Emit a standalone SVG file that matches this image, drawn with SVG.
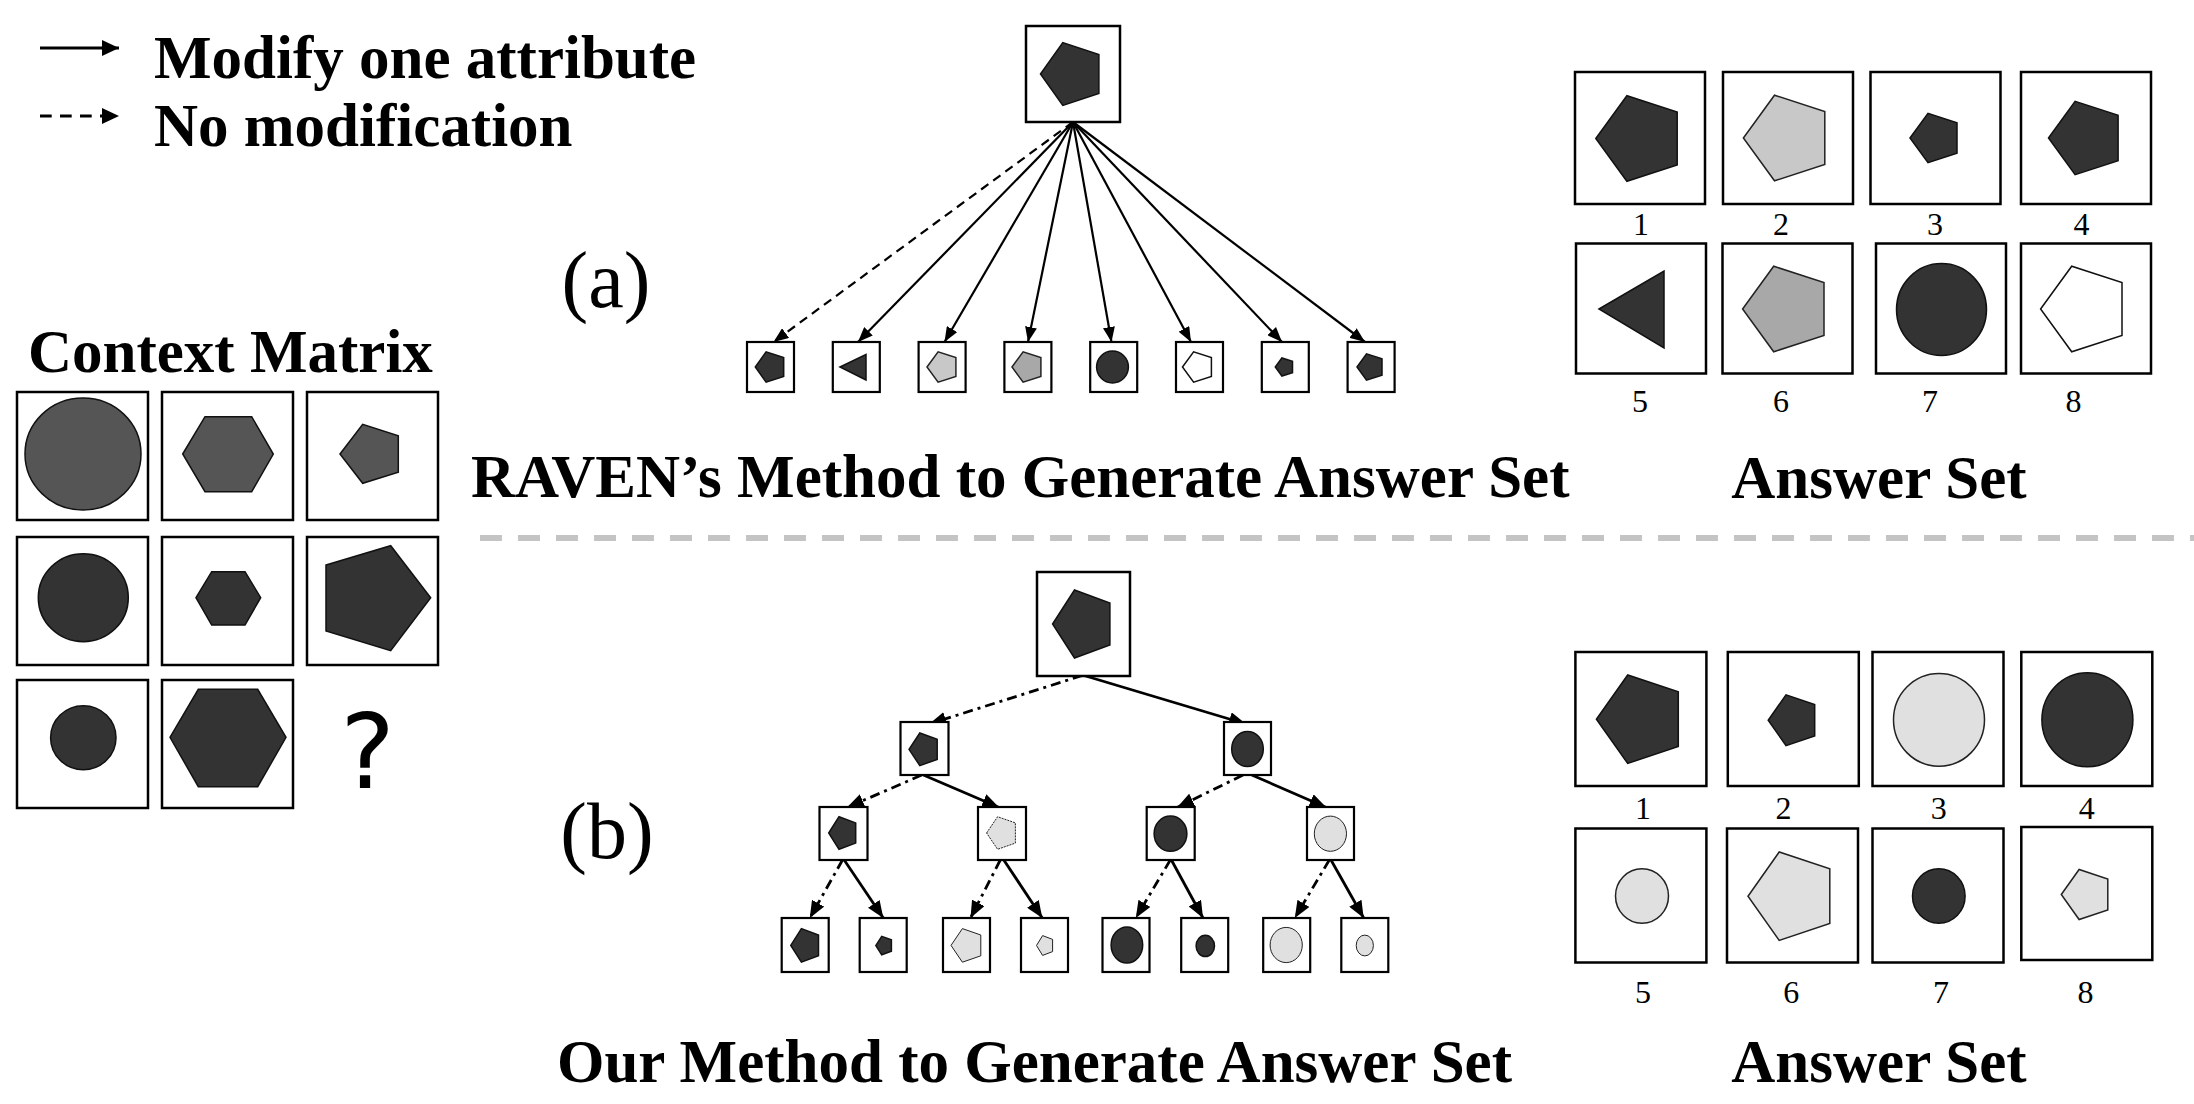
<svg xmlns="http://www.w3.org/2000/svg" width="2194" height="1104" viewBox="0 0 2194 1104">
<style>
.bg{fill:#fff}
.box{fill:#fff;stroke:#000;stroke-width:2.5}
.sbox{fill:#fff;stroke:#000;stroke-width:2.2}
.dk{fill:#333;stroke:#111;stroke-width:1.5}
.md{fill:#555;stroke:#111;stroke-width:1.5}
.lt{fill:#e0e0e0;stroke:#222;stroke-width:1.5}
.lta{fill:#c8c8c8;stroke:#222;stroke-width:1.5}
.gr{fill:#a8a8a8;stroke:#222;stroke-width:1.5}
.wh{fill:#fff;stroke:#111;stroke-width:1.5}
.title{font-family:"Liberation Serif","Times New Roman",serif;font-weight:bold;font-size:61px;fill:#000}
.lab{font-family:"Liberation Serif","Times New Roman",serif;font-size:80px;fill:#000}
.num{font-family:"Liberation Serif","Times New Roman",serif;font-size:32px;fill:#000;text-anchor:middle}
.ar{fill:none;stroke:#000;stroke-width:2.2;marker-end:url(#ah)}
.br{fill:none;stroke:#000;stroke-width:2.8;marker-end:url(#ahb)}
.lg{fill:none;stroke:#000;stroke-width:2.8;marker-end:url(#ahl)}
.da{stroke-dasharray:9 6}
.dd{stroke-dasharray:10 5 3 5}
</style>
<defs>
<marker id="ah" markerUnits="userSpaceOnUse" markerWidth="16" markerHeight="12" refX="15" refY="6" orient="auto">
<path d="M0,0 L15,6 L0,12 z" fill="#000"/>
</marker>
<marker id="ahb" markerUnits="userSpaceOnUse" markerWidth="18" markerHeight="14" refX="17" refY="7" orient="auto">
<path d="M0,0 L17,7 L0,14 z" fill="#000"/>
</marker>
<marker id="ahl" markerUnits="userSpaceOnUse" markerWidth="18" markerHeight="16" refX="17" refY="8" orient="auto">
<path d="M0,0 L17,8 L0,16 z" fill="#000"/>
</marker>
</defs>
<rect class="bg" x="0" y="0" width="2194" height="1104"/>

<g id="legend">
<line class="lg" x1="40" y1="48" x2="119" y2="48"/>
<text class="title" x="154" y="78">Modify one attribute</text>
<line class="lg" x1="40" y1="116" x2="119" y2="116" style="stroke-dasharray:11.7 8.3"/>
<text class="title" x="154" y="146">No modification</text>
</g>

<g id="context-matrix">
<text class="title" x="28" y="372">Context Matrix</text>
<rect class="box" x="17" y="392" width="131" height="128"/>
<rect class="box" x="162" y="392" width="131" height="128"/>
<rect class="box" x="307" y="392" width="131" height="128"/>
<rect class="box" x="17" y="537" width="131" height="128"/>
<rect class="box" x="162" y="537" width="131" height="128"/>
<rect class="box" x="307" y="537" width="131" height="128"/>
<rect class="box" x="17" y="680" width="131" height="128"/>
<rect class="box" x="162" y="680" width="131" height="128"/>
<ellipse class="md" cx="83" cy="454" rx="58" ry="56"/>
<polygon class="md" points="182.7,454 205,416.7 251.7,416.7 273.3,454 251.7,491.7 205,491.7"/>
<polygon class="md" points="340,454 362.7,424.3 398.3,435.7 398.3,472.3 362.7,483.3"/>
<ellipse class="dk" cx="83.3" cy="597.7" rx="45" ry="44"/>
<polygon class="dk" points="196,597.7 211.7,571.7 245,571.7 260.7,597.7 245,625 211.7,625"/>
<polygon class="dk" points="326,565 390.7,545.7 430.7,597.7 390.7,650.7 326,631"/>
<ellipse class="dk" cx="83.3" cy="737.7" rx="32.7" ry="32"/>
<polygon class="dk" points="170,737.3 198.3,689.3 257.7,689.3 286,737.3 257.7,786.7 198.3,786.7"/>
<text x="367.5" y="788" text-anchor="middle" style="font-family:'DejaVu Sans','Open Sans',sans-serif;font-size:103px;fill:#000">?</text>
</g>

<g id="labels">
<text class="lab" x="606" y="307" text-anchor="middle">(a)</text>
<text class="lab" x="607" y="858" text-anchor="middle">(b)</text>
<text class="title" x="471" y="497">RAVEN’s Method to Generate Answer Set</text>
<text class="title" x="1879" y="498" text-anchor="middle">Answer Set</text>
<text class="title" x="557" y="1082">Our Method to Generate Answer Set</text>
<text class="title" x="1879" y="1082" text-anchor="middle">Answer Set</text>
</g>

<g id="separator">
<line x1="480" y1="538" x2="2194" y2="538" stroke="#c4c4c4" stroke-width="6" stroke-dasharray="22 16"/>
</g>

<g id="connectors-a">
<line class="ar da" x1="1073" y1="122" x2="773.5" y2="342"/>
<line class="ar" x1="1073" y1="122" x2="858" y2="342"/>
<line class="ar" x1="1073" y1="122" x2="944.5" y2="342"/>
<line class="ar" x1="1073" y1="122" x2="1028" y2="342"/>
<line class="ar" x1="1073" y1="122" x2="1111.5" y2="342"/>
<line class="ar" x1="1073" y1="122" x2="1191" y2="342"/>
<line class="ar" x1="1073" y1="122" x2="1282" y2="342"/>
<line class="ar" x1="1073" y1="122" x2="1365" y2="342"/>
</g>

<g id="tree-a-root">
<rect class="box" x="1026" y="26" width="94" height="96"/>
<polygon class="dk" points="1040.5,74 1062.8,42.6 1098.9,54.6 1098.9,93.4 1062.8,105.4"/>
</g>
<g id="tree-a-leaves">
<rect class="sbox" x="747" y="342" width="47" height="50"/>
<rect class="sbox" x="832.8" y="342" width="47" height="50"/>
<rect class="sbox" x="918.6" y="342" width="47" height="50"/>
<rect class="sbox" x="1004.4" y="342" width="47" height="50"/>
<rect class="sbox" x="1090.2" y="342" width="47" height="50"/>
<rect class="sbox" x="1176" y="342" width="47" height="50"/>
<rect class="sbox" x="1261.8" y="342" width="47" height="50"/>
<rect class="sbox" x="1347.6" y="342" width="47" height="50"/>
<polygon class="dk" points="755.3,367 766.1,351.8 783.7,357.6 783.7,376.4 766.1,382.2"/>
<polygon class="dk" points="840,367 866,354.5 866,380"/>
<polygon class="lta" points="927,367 938.1,351.8 955.9,357.6 955.9,376.4 938.1,382.2"/>
<polygon class="gr" points="1012,367 1023.1,351.8 1040.9,357.6 1040.9,376.4 1023.1,382.2"/>
<ellipse class="dk" cx="1112.5" cy="367" rx="15.9" ry="16"/>
<polygon class="wh" points="1182.5,367 1193.6,351.8 1211.4,357.6 1211.4,376.4 1193.6,382.2"/>
<polygon class="dk" points="1275.3,367 1281.9,358 1292.5,361.4 1292.5,372.6 1281.9,376"/>
<polygon class="dk" points="1357,367 1366.5,353.9 1382,358.9 1382,375.1 1366.5,380.1"/>
</g>

<g id="answer-set-a">
<rect class="box" x="1575" y="72" width="130" height="132"/>
<rect class="box" x="1723" y="72" width="130" height="132"/>
<rect class="box" x="1870.5" y="72" width="130" height="132"/>
<rect class="box" x="2021" y="72" width="130" height="132"/>
<rect class="box" x="1576" y="243.5" width="130" height="130"/>
<rect class="box" x="1722.5" y="243.5" width="130" height="130"/>
<rect class="box" x="1876" y="243.5" width="130" height="130"/>
<rect class="box" x="2021" y="243.5" width="130" height="130"/>
<polygon class="dk" points="1595.8,138.5 1626.9,95.7 1677.2,112 1677.2,165 1626.9,181.3"/>
<polygon class="lta" points="1743.4,138 1774.5,95.2 1824.8,111.5 1824.8,164.5 1774.5,180.8"/>
<polygon class="dk" points="1910,138 1928,113.3 1957,122.7 1957,153.3 1928,162.7"/>
<polygon class="dk" points="2048.5,138 2075.1,101.4 2118.1,115.4 2118.1,160.6 2075.1,174.6"/>
<polygon class="dk" points="1599,309 1664,271 1664,348"/>
<polygon class="gr" points="1742.6,309 1773.7,266.2 1824,282.5 1824,335.5 1773.7,351.8"/>
<ellipse class="dk" cx="1941.5" cy="309.5" rx="45" ry="46"/>
<polygon class="wh" points="2040.6,309 2071.7,266.2 2122,282.5 2122,335.5 2071.7,351.8"/>
<text class="num" x="1641" y="235">1</text>
<text class="num" x="1781" y="235">2</text>
<text class="num" x="1935" y="235">3</text>
<text class="num" x="2081.5" y="235">4</text>
<text class="num" x="1640" y="412">5</text>
<text class="num" x="1781" y="412">6</text>
<text class="num" x="1930" y="412">7</text>
<text class="num" x="2073.5" y="412">8</text>
</g>

<g id="connectors-b">
<line class="br dd" x1="1082.4" y1="675.5" x2="929.2" y2="724"/>
<line class="br" x1="1084" y1="675.5" x2="1246" y2="724"/>
<line class="br dd" x1="921.7" y1="775" x2="847" y2="807.5"/>
<line class="br" x1="923.4" y1="775" x2="999.2" y2="807.5"/>
<line class="br dd" x1="1243" y1="775" x2="1177" y2="807.5"/>
<line class="br" x1="1251.8" y1="775" x2="1326.4" y2="807.5"/>
<line class="br dd" x1="842.5" y1="860" x2="809.8" y2="918"/>
<line class="br" x1="844.2" y1="860" x2="883.3" y2="918"/>
<line class="br dd" x1="1000.3" y1="860" x2="970.5" y2="918"/>
<line class="br" x1="1003.8" y1="860" x2="1042.3" y2="918"/>
<line class="br dd" x1="1170.3" y1="860" x2="1135.8" y2="918"/>
<line class="br" x1="1171.4" y1="860" x2="1203" y2="918"/>
<line class="br dd" x1="1329.3" y1="860" x2="1294.8" y2="918"/>
<line class="br" x1="1331" y1="860" x2="1363.7" y2="918"/>
</g>

<g id="tree-b-root">
<rect class="box" x="1037" y="572" width="93" height="104"/>
<polygon class="dk" points="1052.6,624 1074.5,590 1109.9,603 1109.9,645 1074.5,658"/>
</g>
<g id="tree-b-level1">
<rect class="sbox" x="900.5" y="722" width="48" height="53"/>
<rect class="sbox" x="1224" y="722" width="47" height="53"/>
<polygon class="dk" points="909,749.3 919.8,733 937.2,739.2 937.2,759.4 919.8,765.6"/>
<ellipse class="dk" cx="1247.5" cy="749" rx="15.8" ry="17.6"/>
</g>
<g id="tree-b-level2">
<rect class="sbox" x="819.5" y="807" width="48" height="53"/>
<rect class="sbox" x="978" y="807" width="48" height="53"/>
<rect class="sbox" x="1146.7" y="807" width="48" height="53"/>
<rect class="sbox" x="1307" y="807" width="47" height="53"/>
<polygon class="dk" points="828.7,833 839,816.7 855.7,822.9 855.7,843.1 839,849.3"/>
<polygon class="lt" style="stroke-width:1;stroke-dasharray:2 1" points="986.6,833 997.6,816.7 1015.4,822.9 1015.4,843.1 997.6,849.3"/>
<ellipse class="dk" cx="1170.5" cy="833.7" rx="16.4" ry="17.6"/>
<ellipse class="lt" style="stroke-width:1" cx="1330.4" cy="833.7" rx="16.1" ry="17.6"/>
</g>
<g id="tree-b-leaves">
<rect class="sbox" x="781.7" y="918" width="47" height="54"/>
<rect class="sbox" x="859.7" y="918" width="47" height="54"/>
<rect class="sbox" x="943" y="918" width="47" height="54"/>
<rect class="sbox" x="1021" y="918" width="47" height="54"/>
<rect class="sbox" x="1102.5" y="918" width="47" height="54"/>
<rect class="sbox" x="1181.2" y="918" width="47" height="54"/>
<rect class="sbox" x="1263.2" y="918" width="47" height="54"/>
<rect class="sbox" x="1341.3" y="918" width="47" height="54"/>
<polygon class="dk" points="790.8,945.4 801.4,928.6 818.5,935 818.5,955.8 801.4,962.2"/>
<polygon class="dk" points="875.8,945.6 881.7,936.4 891.4,939.9 891.4,951.3 881.7,954.8"/>
<polygon class="lt" style="stroke-width:1" points="951,945.4 962.4,928.6 980.8,935 980.8,955.8 962.4,962.2"/>
<polygon class="lt" style="stroke-width:1" points="1036.5,945.5 1042.6,935.6 1052.6,939.4 1052.6,951.6 1042.6,955.4"/>
<ellipse class="dk" cx="1126.9" cy="945" rx="15.8" ry="18.1"/>
<ellipse class="dk" cx="1205.3" cy="945.9" rx="9.2" ry="10.6"/>
<ellipse class="lt" style="stroke-width:1" cx="1286.2" cy="945" rx="16.1" ry="17.6"/>
<ellipse class="lt" style="stroke-width:1" cx="1364.8" cy="945.5" rx="8.6" ry="10.4"/>
</g>

<g id="answer-set-b">
<rect class="box" x="1575.4" y="652" width="131" height="134"/>
<rect class="box" x="1727.8" y="652" width="131" height="134"/>
<rect class="box" x="1872.5" y="652" width="131" height="134"/>
<rect class="box" x="2021.3" y="652" width="131" height="134"/>
<rect class="box" x="1575.4" y="828.5" width="131" height="134"/>
<rect class="box" x="1727" y="828.5" width="131" height="134"/>
<rect class="box" x="1872.5" y="828.5" width="131" height="134"/>
<rect class="box" x="2021.3" y="827" width="131" height="133"/>
<polygon class="dk" points="1596.4,719.2 1627.7,675 1678.3,691.9 1678.3,746.5 1627.7,763.4"/>
<polygon class="dk" points="1768.2,720.2 1786,694.8 1814.7,704.5 1814.7,735.9 1786,745.6"/>
<ellipse class="lt" cx="1939" cy="719.8" rx="45.5" ry="46.4"/>
<ellipse class="dk" cx="2087.4" cy="719.8" rx="45.5" ry="47"/>
<ellipse class="lt" cx="1642" cy="896" rx="26.5" ry="27.2"/>
<polygon class="lt" points="1748,896.2 1779.2,852 1829.8,868.9 1829.8,923.5 1779.2,940.4"/>
<ellipse class="dk" cx="1938.8" cy="896" rx="26.3" ry="27.2"/>
<polygon class="lt" points="2061.3,894.5 2079.1,869.5 2107.8,879 2107.8,910 2079.1,919.5"/>
<text class="num" x="1643" y="819">1</text>
<text class="num" x="1783.6" y="819">2</text>
<text class="num" x="1938.8" y="819">3</text>
<text class="num" x="2086.8" y="819">4</text>
<text class="num" x="1643" y="1002.5">5</text>
<text class="num" x="1791.3" y="1002.5">6</text>
<text class="num" x="1941" y="1002.5">7</text>
<text class="num" x="2085.6" y="1002.5">8</text>
</g>
</svg>
